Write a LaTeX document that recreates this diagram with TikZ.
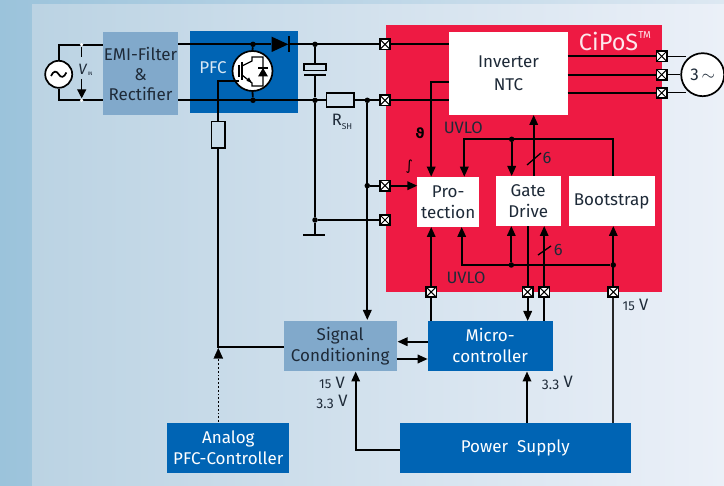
\documentclass[tikz,border=0pt]{standalone}
\usepackage{fontspec}
\setmainfont{Fira Sans}
\newfontfamily\symfont{DejaVu Sans}
\usetikzlibrary{arrows.meta,shadings}
\newcommand{\smalldig}[1]{{\fontsize{13}{14}\selectfont #1}}
\newcommand{\lowdig}[1]{\raisebox{-2.2pt}{\fontsize{14}{14}\selectfont #1}}
\definecolor{ltblue}{HTML}{81A9CB}
\definecolor{dkblue}{HTML}{0064B4}
\definecolor{cipred}{HTML}{EE1A43}
\definecolor{inktext}{HTML}{1E2A38}
\definecolor{bgL}{HTML}{BBD3E3}
\definecolor{bgR}{HTML}{EBF0F8}
\definecolor{stripL}{HTML}{9BC3DB}
\definecolor{stripR}{HTML}{DDE8F2}
\tikzset{
  wire/.style={line width=1.8pt,black},
  arr/.style={wire,-{Triangle[length=10pt,width=8.5pt]}},
  blockbox/.style={draw=none,align=center,font=\fontsize{17}{20}\selectfont,inner sep=0pt},
  light/.style={blockbox,fill=ltblue,text=inktext},
  dark/.style={blockbox,fill=dkblue,text=white},
  whitebox/.style={blockbox,fill=white,text=inktext},
  lbl/.style={font=\fontsize{16.5}{17}\selectfont,text=inktext,inner sep=0pt},
  dotn/.style={circle,fill=black,inner sep=0pt,minimum size=5.5pt},
  wdot/.style={circle,fill=white,inner sep=0pt,minimum size=3.5pt},
  term/.style={draw=black,line width=1.8pt,fill=white,inner sep=0pt,minimum size=10.5pt,
    path picture={\draw[black,line width=1pt] (path picture bounding box.south west)--(path picture bounding box.north east)
      (path picture bounding box.north west)--(path picture bounding box.south east);}},
  sym/.style={draw=black,line width=1.7pt,fill=white,circle,inner sep=0pt},
  res/.style={draw=black,line width=1.6pt,inner sep=0pt},
}
\begin{document}
\begin{tikzpicture}[x=1pt,y=-1pt]
\useasboundingbox (0,0) rectangle (724,486);
% background
\shade[left color=stripL,right color=stripR] (0,0) rectangle (724,486);
\shade[left color=bgL,right color=bgR] (32,5) rectangle (724,486);
% boxes
\node[light,minimum width=75.6pt,minimum height=82.7pt] (emi) at (140.5,73.65) {EMI-Filter\\\&\\Rectifier};
\fill[dkblue] (189.7,31) rectangle (298.3,112.7);
\node[dark,anchor=center,text=white!85!dkblue] (pfc) at (213,68) {PFC};
\fill[cipred] (385.7,25) rectangle (661.7,291.7);
\node[font=\fontsize{23.5}{24}\selectfont,text=white!90!cipred,inner sep=0pt] (cipos) at (615,41) {CiPoS\raisebox{1ex}{\fontsize{10}{10}\selectfont TM}};
\node[whitebox,minimum width=118.4pt,minimum height=82.7pt,font=\fontsize{17}{23}\selectfont] (inv) at (508.5,73.65) {Inverter\\NTC};
\node[whitebox,minimum width=61.7pt,minimum height=50.3pt,font=\fontsize{17}{21}\selectfont] (prot) at (448.15,201.85) {Pro-\\tection};
\node[whitebox,minimum width=65pt,minimum height=50pt,font=\fontsize{17}{21}\selectfont] (gate) at (528.2,201) {Gate\\Drive};
\node[whitebox,minimum width=86pt,minimum height=50pt] (boot) at (611.7,201) {Bootstrap};
\node[light,minimum width=113pt,minimum height=49.7pt,font=\fontsize{17}{21}\selectfont] (sig) at (340.2,345.85) {Signal\\Conditioning};
\node[dark,minimum width=125pt,minimum height=49.7pt,font=\fontsize{17}{21}\selectfont] (mic) at (490.2,345.85) {Micro-\\controller};
\node[dark,minimum width=122pt,minimum height=49.7pt,font=\fontsize{17}{21}\selectfont] (ana) at (228.3,447.85) {Analog\\PFC-Controller};
\node[dark,minimum width=231pt,minimum height=49.7pt] (psu) at (515.2,447.85) {Power\ \ Supply};
% named points
\foreach \n/\x/\y in {ta/385/44.3,tb/385/100.3,tc/385/185.7,td/385/220,
   m1/661.7/56.3,m2/661.7/74.7,m3/661.7/93,
   b1/431.2/292,b2/527.7/292,b3/544.2/292,b4/613.3/292}
  {\coordinate (\n) at (\x,\y);}
\node[dotn] (n1) at (253,44.3) {};
\node[dotn] (n2) at (315,44.3) {};
\node[dotn] (n3) at (253,100.3) {};
\node[dotn] (n4) at (315,100.3) {};
\node[dotn] (n5) at (367.3,100.3) {};
\node[dotn] (n6) at (367.3,185.7) {};
\node[dotn] (n7) at (315,220) {};
\node[dotn] (n8) at (511.7,139.3) {};
\node[dotn] (n9) at (511.3,265) {};
\node[dotn] (n10) at (613.3,265) {};
% power rails
\draw[wire] (178.3,44.3) -- (271,44.3);
\draw[wire] (289,44.3) -- (ta);
\draw[wire] (178.3,100.3) -- (326.3,100.3);
\draw[wire] (353.7,100.3) -- (tb);
\draw[wire] (ta) -- (inv.west |- ta);
\draw[wire] (tb) -- (inv.west |- tb);
% AC source
\node[sym,minimum size=27pt] (ac) at (58.7,74.3) {};
\draw[wire] (ac.north) |- (102.7,44.8);
\draw[wire] (ac.south) |- (102.7,100.3);
\draw[line width=1.7pt] (51,76) .. controls (53.5,70.5) and (56.5,70.5) .. (58.7,74.3) .. controls (60.9,78) and (63.9,78) .. (66.4,72.5);
\node[wdot] (v1) at (81.7,44.8) {};
\node[wdot] (v2) at (81.7,100.3) {};
\draw[wire,line width=1.3pt] (v1) -- (81.7,57);
\draw[wire,line width=1.3pt,-{Triangle[length=9pt,width=9pt]}] (81.7,79) -- (v2);
\node[lbl,font=\itshape\fontsize{15}{15}\selectfont] (vlab) at (82.5,69.5) {V};
\node[lbl,font=\fontsize{5}{5}\selectfont] (vsub) at (90,74) {IN};
% diode
\fill[black] (271.7,36.7) -- (288.3,44.3) -- (271.7,52) -- cycle;
\draw[line width=1.6pt] (289,36.3) -- (289,52.3);
% IGBT
\node[sym,minimum size=40pt] (igbt) at (252.5,71) {};
\draw[wire] (n1) -- (igbt.north);
\draw[wire] (n3) -- (igbt.south);
\draw[line width=1.3pt] (239,65) -- (239,77);
\draw[line width=1.5pt] (242,62) -- (242,80);
\draw[line width=1.2pt] (242,66) -- (252,61) -- (252,57) -- (263,57) -- (263,86) -- (252,86) -- (252,83) -- (242,75);
\fill (252,83) -- (246.5,80.8) -- (249,77.5) -- cycle;
\fill[black] (263,68) -- (258,76.5) -- (268,76.5) -- cycle;
\draw[line width=1.2pt] (258,68) -- (268,68);
% gate line and resistor
\node[res,fill=none,minimum width=13.3pt,minimum height=26.3pt] (rg) at (218.3,134.8) {};
\draw[wire] (239,80.7) -- (218.3,80.7) -- (rg.north);
\draw[wire] (rg.south) -- (218.3,346.7) -- (sig.west |- 218.3,346.7);
% capacitor and verticals
\draw[wire] (n2) -- (315,64);
\node[res,minimum width=22pt,minimum height=6.7pt] (cap) at (315,67.3) {};
\draw[line width=1.7pt] (304,75.3) -- (326,75.3);
\draw[wire] (315,75.3) -- (n4);
\draw[wire] (n4) -- (n7) -- (315,235);
\draw[line width=1.7pt] (303,235) -- (325,235);
\node[res,minimum width=27.4pt,minimum height=14pt] (rsh) at (340,100.3) {};
\node[lbl] (rshl) at (342,122) {R\raisebox{-0.4ex}{\fontsize{8.5}{8.5}\selectfont SH}};
\draw[arr] (n5) -- (367.3,320);
\draw[wire] (n6) -- (tc);
\draw[wire] (n7) -- (td);
% inside CiPoS top
\draw[arr] (inv.west |- 0,81.7) -| (431.2,176.7);
\draw[arr] (tc) -- (417.3,185.7);
\draw[arr] (613.3,176) |- (464.3,139.3) -- (464.3,176.7);
\draw[arr] (n8) -- (511.7,176);
\draw[arr] (533.7,176) -- (533.7,115);
\draw[wire,line width=1.3pt] (527,165) -- (541,153);
\node[lbl] (six1) at (547,157.7) {6};
\node[lbl] (uv1) at (463.3,127.7) {UVLO};
\node[font=\symfont\bfseries\fontsize{14}{14}\selectfont,inner sep=0pt] (th) at (420,132.7) {ϑ};
\node[font=\symfont\fontsize{14}{16}\selectfont,inner sep=0pt] (intg) at (409.3,166.5) {∫};
% motor lines
\node[sym,minimum size=43pt] (mot) at (702.7,74.7) {};
\draw[wire] (567.7,56.3) -- (m1);
\draw[wire] (567.7,74.7) -- (m2);
\draw[wire] (567.7,93) -- (m3);
\draw[wire,line width=1pt] (m1) -- (686,56.3);
\draw[wire,line width=1pt] (m2) -- (mot.west);
\draw[wire,line width=1pt] (m3) -- (686,93);
\node[lbl,font=\fontsize{17}{17}\selectfont] (mt) at (702.7,75) {3\,$\sim$};
% inside CiPoS bottom
\draw[arr] (b1) -- (431.2,227);
\draw[wire] (b2) -- (527.7,226);
\draw[arr] (b3) -- (544.2,226);
\draw[arr] (b4) -- (613.3,226);
\draw[arr] (n10) -| (461.7,227);
\draw[arr] (n9) -- (511.3,226);
\draw[wire,line width=1.3pt] (538,255) -- (551,246);
\node[lbl] (six2) at (558.3,250) {6};
\node[lbl] (uv2) at (466,278) {UVLO};
% below CiPoS
\draw[wire] (b1) -- (431.2,321);
\draw[arr] (b2) -- (527.7,321);
\draw[wire] (b3) -- (544.2,321);
\draw[wire,draw=black!85] (b4) -- (613.3,423);
\node[lbl] (v15a) at (635.5,305) {\smalldig{15} V};
\draw[arr] (427.7,341.7) -- (397.5,341.7);
\draw[arr] (396.7,359) -- (427.7,359);
\draw[arr] (psu.west |- 0,450) -| (355.7,371.5);
\draw[arr] (527,423) -- (527,371.5);
\draw[wire,dotted,line width=1.6pt] (218.3,422) -- (218.3,358);
\draw[black,fill=black] (218.3,348.5) -- (222.8,358.5) -- (213.8,358.5) -- cycle;
\node[lbl] (v15b) at (332,382.7) {\smalldig{15} V};
\node[lbl] (v33a) at (332,402) {\lowdig{3.3} V};
\node[lbl] (v33b) at (557.3,383) {\lowdig{3.3} V};
% terminals
\foreach \n in {ta,tb,tc,td,m1,m2,m3,b1,b2,b3,b4}
  {\node[term] (T\n) at (\n) {};}
\end{tikzpicture}
\end{document}
